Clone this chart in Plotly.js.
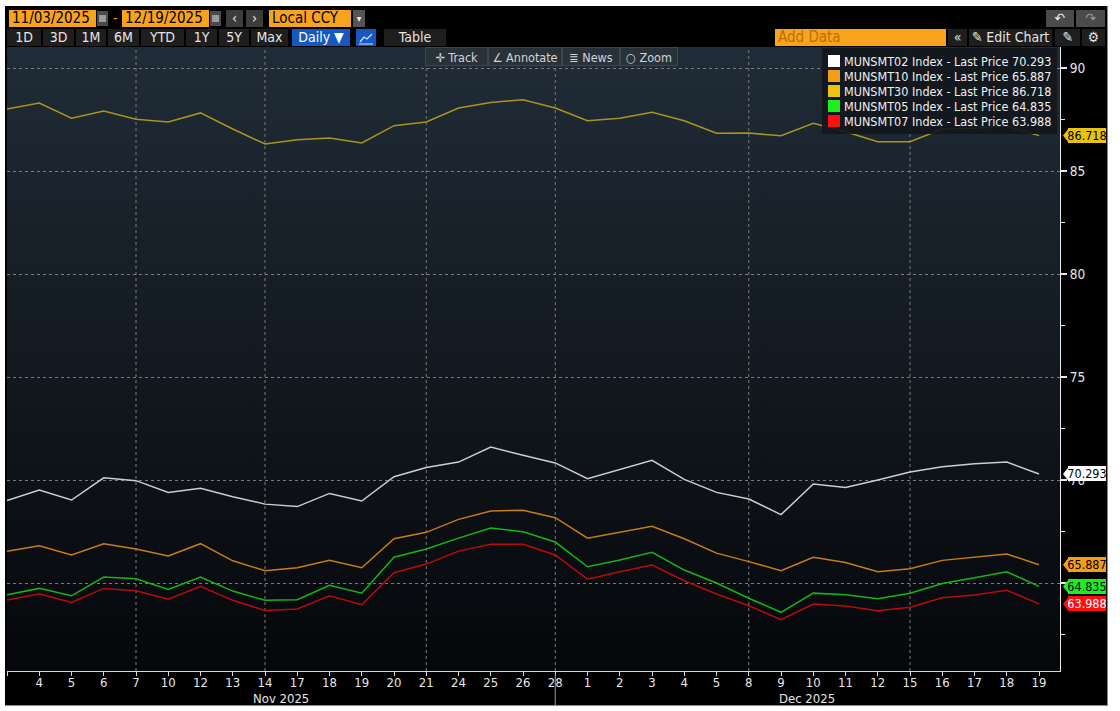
<!DOCTYPE html>
<html>
<head>
<meta charset="utf-8">
<script src="https://cdn.plot.ly/plotly-3.0.1.min.js"></script>
<style>
  body { margin: 0; background: #fff; width: 1120px; height: 711px; overflow: hidden;
         font-family: 'DejaVu Sans Condensed', 'DejaVu Sans', sans-serif; }
  #panel { position: absolute; left: 5px; top: 6px; width: 1102px; height: 699px; background: #000;
           border-right: 1px solid #8a8a8a; border-bottom: 1px solid #8a8a8a; }
  #plotbg { position: absolute; left: 7px; top: 47px; width: 1053px; height: 624px;
            background: linear-gradient(#202c38, #141b22 45%, #05070a); }
  #chart { position: absolute; left: 0; top: 0; width: 1120px; height: 711px; }
  .bx { position: absolute; height: 17px; line-height: 17px; font-size: 14px; white-space: nowrap; box-sizing: border-box; }
  .org { background: #f7a31c; color: #000; padding-left: 3px; font-size: 15px; }
  .gry { background: #3c3c3c; color: #eee; text-align: center; }
  .btn { background: #1e1e1e; color: #e4e4e4; text-align: center; top: 29px; }
  .blu { background: #1558c0; color: #fff; text-align: center; top: 29px; }
  .cal { position: absolute; top: 11px; width: 11px; height: 15px; background: #4a4a4a; }
  .cal i { position: absolute; left: 2px; top: 4px; width: 7px; height: 7px; background: #9a9a9a; }
  .tb { position: absolute; top: 47px; height: 19px; line-height: 19px; background: #2a3239;
        border: 1px solid #3d464f; color: #cfd4d8; font-size: 12.5px; text-align: center; box-sizing: border-box; }
  #legend { position: absolute; left: 822px; top: 48px; width: 235px; height: 86px; background: rgba(18,23,28,0.92);
            padding-top: 6px; box-sizing: border-box; }
  .lrow { height: 15px; line-height: 15px; font-size: 12.5px; color: #f0f0f0; position: relative; padding-left: 22px; white-space: nowrap; }
  .lrow b { position: absolute; left: 6px; top: 1px; width: 12px; height: 12px; }
</style>
</head>
<body>
<div id="panel"></div>
<div id="plotbg"></div>
<div id="chart"></div>

<!-- toolbar row 1 -->
<div class="bx org" style="left:9px;top:10px;width:87px;">11/03/2025</div>
<div class="cal" style="left:97px;"><i></i></div>
<div class="bx" style="left:113px;top:10px;color:#f7a31c;">-</div>
<div class="bx org" style="left:122px;top:10px;width:87px;">12/19/2025</div>
<div class="cal" style="left:210px;"><i></i></div>
<div class="bx gry" style="left:226px;top:10px;width:17px;">&lsaquo;</div>
<div class="bx gry" style="left:246px;top:10px;width:17px;">&rsaquo;</div>
<div class="bx org" style="left:269px;top:10px;width:82px;">Local CCY</div>
<div class="bx gry" style="left:353px;top:10px;width:12px;background:#555;font-size:10px;">&#9662;</div>
<div class="bx gry" style="left:1046px;top:10px;width:28px;background:#4b4b4b;">&#8630;</div>
<div class="bx gry" style="left:1076px;top:10px;width:29px;background:#4b4b4b;color:#999;">&#8631;</div>

<!-- toolbar row 2 -->
<div class="bx btn" style="left:7px;width:34px;">1D</div>
<div class="bx btn" style="left:43px;width:31px;">3D</div>
<div class="bx btn" style="left:76px;width:30px;">1M</div>
<div class="bx btn" style="left:108px;width:31px;">6M</div>
<div class="bx btn" style="left:141px;width:43px;">YTD</div>
<div class="bx btn" style="left:186px;width:31px;">1Y</div>
<div class="bx btn" style="left:219px;width:30px;">5Y</div>
<div class="bx btn" style="left:251px;width:37px;">Max</div>
<div class="bx blu" style="left:292px;width:58px;">Daily &#9660;</div>
<div class="bx blu" style="left:356px;width:20px;">
  <svg width="16" height="14" style="margin-top:2px"><polyline points="2,11 6,6 9,8 14,3" fill="none" stroke="#cfe0ff" stroke-width="1.3"/><line x1="1" y1="13" x2="15" y2="13" stroke="#cfe0ff"/></svg>
</div>
<div class="bx btn" style="left:384px;width:62px;">Table</div>
<div class="bx org" style="left:775px;top:29px;width:171px;color:#b8700a;">Add Data</div>
<div class="bx btn" style="left:948px;width:19px;">&laquo;</div>
<div class="bx btn" style="left:969px;width:83px;">&#9998; Edit Chart</div>
<div class="bx btn" style="left:1055px;width:25px;">&#9998;</div>
<div class="bx btn" style="left:1082px;width:23px;">&#9881;</div>

<!-- chart tools -->
<div class="tb" style="left:425px;width:63px;">&#10011; Track</div>
<div class="tb" style="left:488px;width:74px;">&ang; Annotate</div>
<div class="tb" style="left:562px;width:58px;">&#8803; News</div>
<div class="tb" style="left:620px;width:58px;">&#9675; Zoom</div>

<div id="legend"></div>

<script>
const dates = ['2025-11-03', '2025-11-04', '2025-11-05', '2025-11-06', '2025-11-07', '2025-11-10',
  '2025-11-12', '2025-11-13', '2025-11-14', '2025-11-17', '2025-11-18', '2025-11-19', '2025-11-20',
  '2025-11-21', '2025-11-24', '2025-11-25', '2025-11-26', '2025-11-28', '2025-12-01', '2025-12-02',
  '2025-12-03', '2025-12-04', '2025-12-05', '2025-12-08', '2025-12-09', '2025-12-10', '2025-12-11',
  '2025-12-12', '2025-12-15', '2025-12-16', '2025-12-17', '2025-12-18', '2025-12-19']

const mt02 = [69.00, 69.51, 69.03, 70.11, 69.97, 69.40, 69.60, 69.19, 68.83, 68.71, 69.35, 68.98, 70.16,
  70.61, 70.87, 71.60, 71.20, 70.83, 70.06, 70.52, 70.96, 70.03, 69.40, 69.08, 68.32, 69.81, 69.64,
  70.00, 70.39, 70.65, 70.79, 70.87, 70.293]
const mt10 = [66.54, 66.81, 66.36, 66.91, 66.65, 66.31, 66.91, 66.08, 65.60, 65.74, 66.10, 65.74, 67.15,
  67.46, 68.09, 68.50, 68.53, 68.17, 67.18, 67.46, 67.75, 67.15, 66.45, 66.04, 65.60, 66.25, 66.00,
  65.55, 65.69, 66.10, 66.25, 66.41, 65.887]
const mt30 = [88.01, 88.30, 87.56, 87.91, 87.51, 87.38, 87.82, 87.04, 86.31, 86.52, 86.60, 86.36, 87.20,
  87.38, 88.06, 88.33, 88.46, 88.06, 87.44, 87.56, 87.85, 87.44, 86.83, 86.84, 86.71, 87.32, 86.91,
  86.42, 86.42, 87.04, 87.07, 87.18, 86.718]
const mt05 = [64.43, 64.74, 64.38, 65.29, 65.21, 64.69, 65.29, 64.61, 64.16, 64.19, 64.89, 64.51, 66.25,
  66.65, 67.18, 67.67, 67.49, 66.99, 65.79, 66.12, 66.49, 65.63, 65.00, 64.26, 63.58, 64.51, 64.43,
  64.24, 64.50, 64.98, 65.26, 65.55, 64.835]
const mt07 = [64.17, 64.48, 64.06, 64.74, 64.63, 64.21, 64.84, 64.16, 63.67, 63.74, 64.38, 63.95, 65.50,
  65.92, 66.55, 66.88, 66.88, 66.36, 65.19, 65.55, 65.87, 65.11, 64.47, 63.90, 63.22, 63.98, 63.88,
  63.66, 63.83, 64.29, 64.42, 64.65, 63.988]

const seriesNames = ['MUNSMT02', 'MUNSMT10', 'MUNSMT30', 'MUNSMT05', 'MUNSMT07']
const seriesValues = [mt02, mt10, mt30, mt05, mt07]
const lineColors = ['#cdcdcd', '#c67c18', '#ab941d', '#17b417', '#bb0a0a']
const swatchColors = ['#ffffff', '#f59d14', '#e8c410', '#1cf01c', '#ff1010']
const badgeText = ['#000', '#000', '#000', '#000', '#fff']

// weekly grid lines (category index) and month labels
const gridIdx = [4, 8, 13, 17, 23, 28]
const monthLabels = ['Nov 2025', 'Dec 2025']
const monthPos = [8.5, 24.8]

// price axis: the 65 label sits fully under the 64.835 badge in the original
const yTicks = [65, 70, 75, 80, 85, 90]
const yTickText = ['', '70', '75', '80', '85', '90']

const yRange = [60.73, 91.02]
const FONT = 'DejaVu Sans Condensed, DejaVu Sans, sans-serif'
const tickText = dates.map((d, i) => i === 0 ? '' : String(parseInt(d.slice(8), 10)))

const data = seriesValues.map((vals, i) => ({
  x: dates,
  y: vals,
  type: 'scatter',
  mode: 'lines',
  name: seriesNames[i],
  line: { color: lineColors[i], width: 1.5 },
  hoverinfo: 'skip'
}))

const shapes = gridIdx.map(k => ({
  type: 'line', xref: 'x', yref: 'paper', x0: k, x1: k, y0: 0, y1: 1,
  line: { color: '#7a7a7a', width: 1, dash: 'dot' }, layer: 'below'
}))
// month separator below the axis
shapes.push({
  type: 'line', xref: 'x', yref: 'paper', x0: 17, x1: 17, y0: -0.004, y1: -0.056,
  line: { color: '#9a9a9a', width: 1 }
})

const annotations = monthLabels.map((t, i) => ({
  xref: 'x', yref: 'paper', x: monthPos[i], y: -0.044, yanchor: 'middle',
  text: t, showarrow: false, font: { family: FONT, size: 13, color: '#e6e6e6' }
}))

// last value badges: arrow notch as a shape, body as an annotation box (sits above tick labels)
seriesValues.forEach((vals, i) => {
  const last = vals[vals.length - 1]
  const py = (last - yRange[0]) / (yRange[1] - yRange[0])
  shapes.push({
    type: 'path', xref: 'paper', xsizemode: 'pixel', xanchor: 1,
    yref: 'paper', ysizemode: 'pixel', yanchor: py,
    path: 'M 3 0 L 9 7.5 L 10 7.5 L 10 -7.5 L 9 -7.5 Z',
    fillcolor: swatchColors[i], line: { width: 0 }, layer: 'above'
  })
  annotations.push({
    xref: 'paper', x: 1, xshift: 8, xanchor: 'left', yref: 'paper', y: py, yanchor: 'middle',
    width: 38, height: 15, borderpad: 0, borderwidth: 0, bgcolor: swatchColors[i], align: 'center',
    text: last.toFixed(3), showarrow: false, font: { family: FONT, size: 12.5, color: badgeText[i] }
  })
})

const layout = {
  width: 1120,
  height: 711,
  margin: { l: 7, r: 60, t: 47, b: 40 },
  paper_bgcolor: 'rgba(0,0,0,0)',
  plot_bgcolor: 'rgba(0,0,0,0)',
  showlegend: false,
  font: { family: FONT, color: '#e6e6e6' },
  xaxis: {
    type: 'category',
    range: [0, 32.65],
    tickvals: dates,
    ticktext: tickText,
    ticks: 'outside',
    ticklen: 4,
    tickcolor: '#d8d8d8',
    ticklabelstandoff: -5,
    showgrid: false,
    zeroline: false,
    showline: true,
    linecolor: '#d8d8d8',
    linewidth: 1,
    tickfont: { family: FONT, size: 13, color: '#e6e6e6' },
    fixedrange: true
  },
  yaxis: {
    side: 'right',
    range: yRange,
    tickvals: yTicks,
    ticktext: yTickText,
    showgrid: true,
    gridcolor: '#7a7a7a',
    griddash: 'dot',
    gridwidth: 1,
    zeroline: false,
    showline: true,
    linecolor: '#e8e8e8',
    linewidth: 1,
    ticks: 'outside',
    ticklen: 6,
    tickwidth: 1.5,
    tickcolor: '#e8e8e8',
    tickfont: { family: FONT, size: 13.5, color: '#e8e8e8' },
    minor: { dtick: 2.5, ticks: 'outside', ticklen: 4, tickcolor: '#e8e8e8', showgrid: false },
    fixedrange: true
  },
  shapes: shapes,
  annotations: annotations
}

Plotly.newPlot('chart', data, layout, { displayModeBar: false, staticPlot: true })

// legend built from the series arrays
const legend = document.getElementById('legend')
seriesNames.forEach((n, i) => {
  const vals = seriesValues[i]
  const row = document.createElement('div')
  row.className = 'lrow'
  row.innerHTML = '<b style="background:' + swatchColors[i] + '"></b>' + n + ' Index - Last Price ' + vals[vals.length - 1].toFixed(3)
  legend.appendChild(row)
})
</script>
</body>
</html>
